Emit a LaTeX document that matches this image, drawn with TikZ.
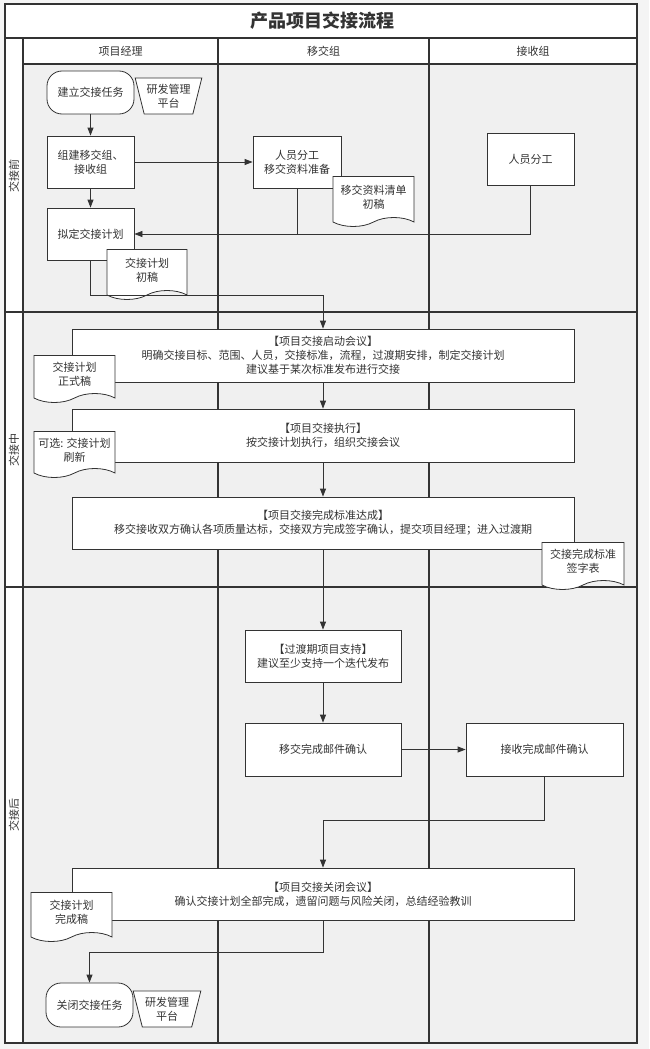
\documentclass[tikz,border=0pt]{standalone}
\usepackage{fontspec}
\newfontfamily\cjk{Noto Sans CJK SC}
\usetikzlibrary{shapes.geometric,shapes.symbols,arrows.meta,calc}
\definecolor{lc}{HTML}{333333}
\definecolor{lanebg}{HTML}{F0F0F0}
\definecolor{pagebg}{HTML}{F4F4F4}
\tikzset{
  base/.style={draw=lc, fill=white, line width=0.8pt, align=center, text=lc,
    font=\cjk\fontsize{11}{14}\selectfont, inner sep=1pt},
  proc/.style={base, rectangle, minimum width=#1, minimum height=52pt},
  term/.style={base, rectangle, rounded corners=15pt, minimum width=87pt, minimum height=43pt},
  manual/.style={base, trapezium, shape border rotate=180, trapezium left angle=72,
    trapezium right angle=72, trapezium stretches=true, minimum width=67pt, minimum height=36pt},
  docu/.style={base, tape, tape bend top=none, tape bend bottom=in and out, tape bend height=9pt,
    minimum width=81pt, minimum height=48pt},
  arr/.style={draw=lc, line width=0.8pt, -{Triangle[length=8pt,width=6pt]}},
  conn/.style={draw=lc, line width=0.8pt},
  lane/.style={draw=lc, line width=1.2pt},
  bandlabel/.style={text=lc, font=\cjk\fontsize{11}{14}\selectfont, rotate=90},
}
\begin{document}
\begin{tikzpicture}[x=1pt,y=-1pt]
\useasboundingbox (0,0) rectangle (649,1049);
\fill[pagebg] (0,0) rectangle (649,1049);
% frame and lanes
\fill[white] (5,4) rectangle (637,1043);
\fill[lanebg] (23,64) rectangle (637,1043);
\draw[lane] (5,38) -- (637,38);
\draw[lane] (23,64) -- (637,64);
\draw[lane] (23,38) -- (23,1043);
\draw[lane] (218,38) -- (218,1043);
\draw[lane] (429,38) -- (429,1043);
\draw[lane] (5,312) -- (637,312);
\draw[lane] (5,587) -- (637,587);
\draw[draw=lc, line width=1.6pt] (5,4) rectangle (637,1043);
% title and headers
\node[text=lc, font=\cjk\bfseries\fontsize{18}{22}\selectfont] (title) at (322,21) {产品项目交接流程};
\node[text=lc, font=\cjk\fontsize{11}{14}\selectfont] (h1) at (120.5,51) {项目经理};
\node[text=lc, font=\cjk\fontsize{11}{14}\selectfont] (h2) at (323.5,51) {移交组};
\node[text=lc, font=\cjk\fontsize{11}{14}\selectfont] (h3) at (533,51) {接收组};
\node[bandlabel] (b1) at (14,176) {交接前};
\node[bandlabel] (b2) at (14,450) {交接中};
\node[bandlabel] (b3) at (14,815) {交接后};
% phase 1
\node[term] (start) at (90.5,92.5) {建立交接任务};
\node[manual] (plat1) at (168.5,96) {研发管理\\平台};
\node[proc=87pt] (form) at (90.5,162) {组建移交组、\\接收组};
\node[proc=87pt] (plan) at (90.5,234) {拟定交接计划};
\node[docu, minimum width=80pt, minimum height=50pt] (draft) at (147,270) {交接计划\\初稿};
\node[proc=88pt] (prep) at (297,162) {人员分工\\移交资料准备};
\node[docu, minimum height=50pt] (list) at (373.5,197) {移交资料清单\\初稿};
\node[proc=87pt] (recv) at (530.5,159) {人员分工};
% phase 2
\node[proc=502pt, minimum height=53pt] (kick) at (323,355.5) {【项目交接启动会议】\\明确交接目标、范围、人员，交接标准，流程，过渡期安排，制定交接计划\\建议基于某次标准发布进行交接};
\node[docu, minimum height=47pt] (formal) at (74.5,374.5) {交接计划\\正式稿};
\node[proc=502pt, minimum height=53pt] (exec) at (323,435.5) {【项目交接执行】\\按交接计划执行，组织交接会议};
\node[docu, minimum height=46pt] (refresh) at (74.5,450) {可选: 交接计划\\刷新};
\node[proc=502pt] (done) at (323,523) {【项目交接完成标准达成】\\移交接收双方确认各项质量达标，交接双方完成签字确认，提交项目经理；进入过渡期};
\node[docu, minimum width=82pt, minimum height=47pt] (sign) at (583,561.5) {交接完成标准\\签字表};
% phase 3
\node[proc=156pt] (trans) at (323,656) {【过渡期项目支持】\\建议至少支持一个迭代发布};
\node[proc=156pt, minimum height=53pt] (mail1) at (323,749.5) {移交完成邮件确认};
\node[proc=157pt, minimum height=53pt] (mail2) at (544.5,749.5) {接收完成邮件确认};
\node[proc=502pt] (close) at (323,894) {【项目交接关闭会议】\\确认交接计划全部完成，遗留问题与风险关闭，总结经验教训};
\node[docu, minimum height=49pt] (final) at (71.5,912.5) {交接计划\\完成稿};
\node[term, minimum height=44pt] (end) at (89.5,1005) {关闭交接任务};
\node[manual, minimum width=68pt] (plat2) at (167,1009) {研发管理\\平台};
% connectors
\coordinate (j1) at (90.5,295);
\coordinate (j2) at (544.5,820);
\coordinate (j3) at (323,952);
\draw[arr] (start) -- (form);
\draw[arr] (form) -- (plan);
\draw[arr] (form) -- (prep);
\draw[conn] (prep.south) -- (prep.south |- plan.east);
\draw[arr] (recv.south) |- (plan.east);
\draw[arr] (plan.south) -- (j1) -| (kick.north);
\draw[arr] (kick) -- (exec);
\draw[arr] (exec) -- (done);
\draw[arr] (done) -- (trans);
\draw[arr] (trans) -- (mail1);
\draw[arr] (mail1) -- (mail2);
\draw[arr] (mail2.south) -- (j2) -| (close.north);
\draw[arr] (close.south) -- (j3) -| (end.north);
\end{tikzpicture}
\end{document}
